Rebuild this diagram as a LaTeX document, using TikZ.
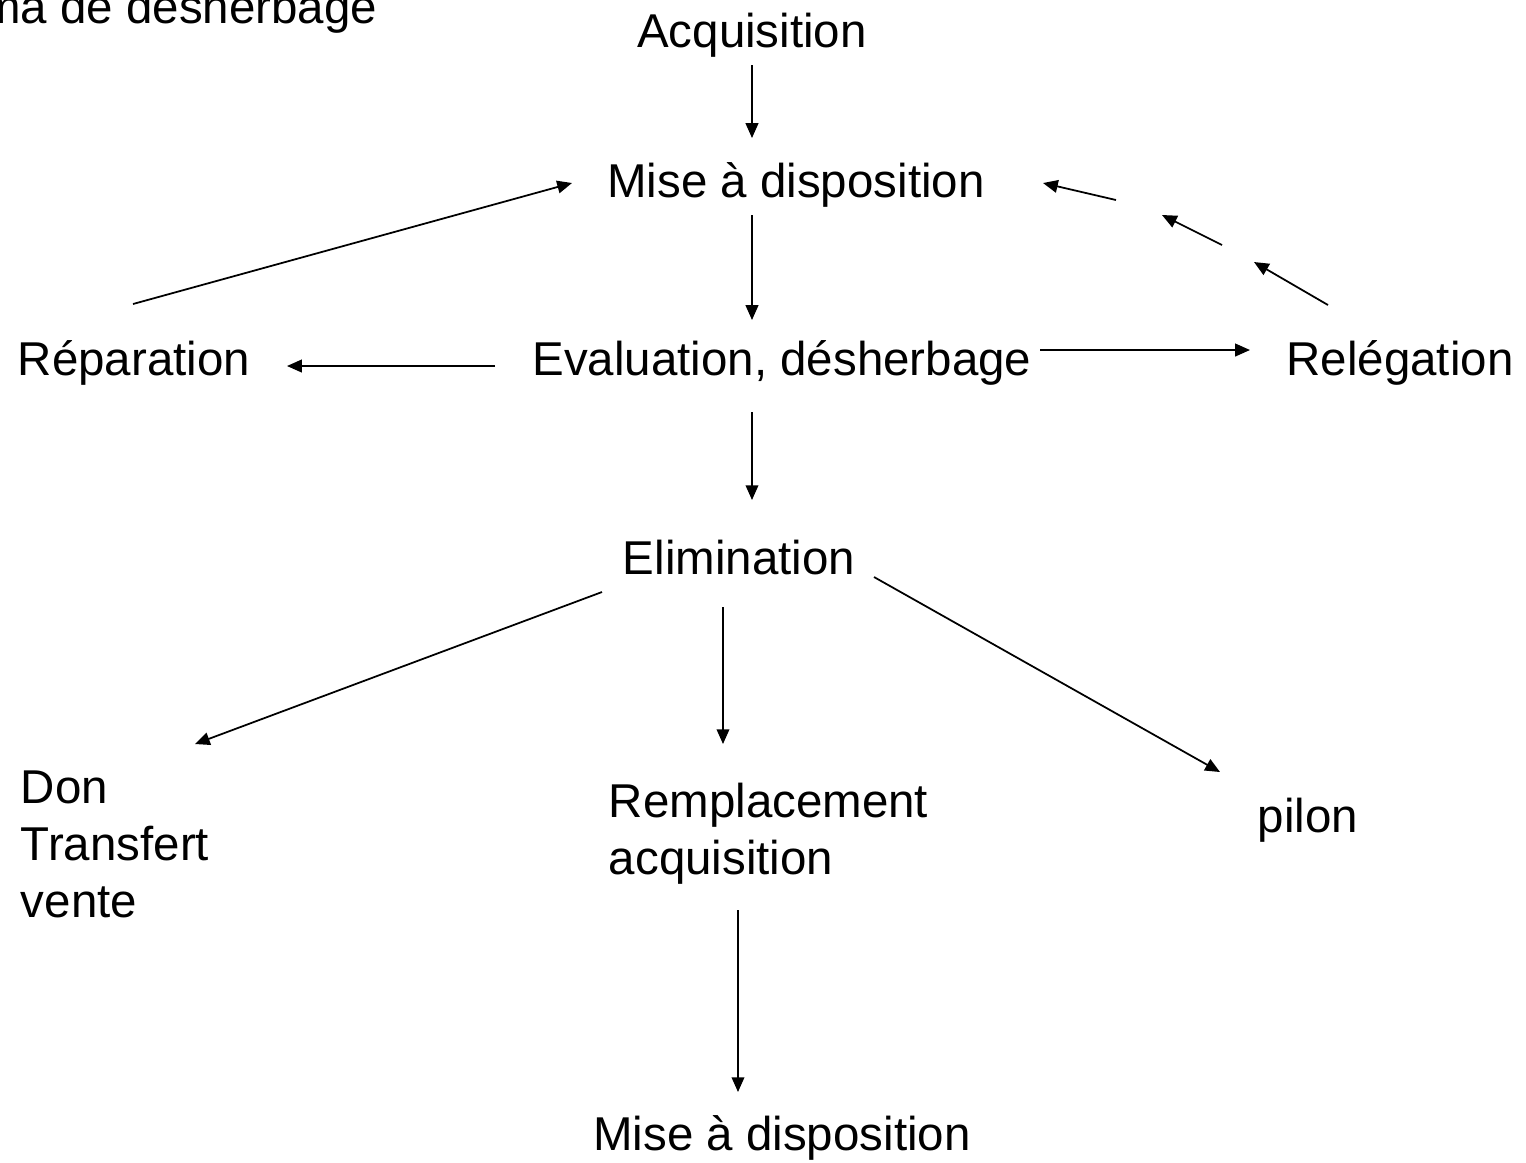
\documentclass[tikz,border=0pt]{standalone}
\usepackage{fontspec}
\setmainfont{Liberation Sans}
\usetikzlibrary{arrows.meta, calc}

\begin{document}
\begin{tikzpicture}[
        x=0.01cm, y=-0.01cm,
        >={Triangle[length=4.2pt,width=3.6pt]},
        line width=0.5pt,
        lbl/.style={inner sep=0pt, font=\fontsize{13.5}{16.2}\selectfont},
        multi/.style={lbl, align=left},
    ]
    \useasboundingbox (0,0) rectangle (1526,1162);
    \clip (0,0) rectangle (1526,1162);

    %============================================================
    % Title (cut at the left border)
    %============================================================
    \node[lbl, anchor=base east] (title) at (378,23) {Schéma de désherbage};

    %============================================================
    % Main chain
    %============================================================
    \node[lbl, anchor=base] (acq)  at (752,47)  {Acquisition};
    \node[lbl, anchor=base] (mise) at (796,197) {Mise à disposition};
    \node[lbl, anchor=base] (eval) at (782,375) {Evaluation, désherbage};
    \node[lbl, anchor=base] (elim) at (739,574) {Elimination};

    \coordinate (acq-out)  at (752,65);
    \coordinate (mise-in)  at (752,138);
    \coordinate (mise-out) at (752,215);
    \coordinate (eval-in)  at (752,320);
    \coordinate (eval-out) at (752,412);
    \coordinate (elim-in)  at (752,500);

    \draw[->] (acq-out) -- (mise-in);
    \draw[->] (mise-out) -- (eval-in);
    \draw[->] (eval-out) -- (elim-in);

    %============================================================
    % Side branches: Réparation / Relégation
    %============================================================
    \node[lbl, anchor=base] (rep) at (134,375)  {Réparation};
    \node[lbl, anchor=base] (rel) at (1400,375) {Relégation};

    \draw[->] (495,366) coordinate (eval-w) -- (287,366) coordinate (rep-e);
    \draw[->] (1040,350) coordinate (eval-e) -- (1250,350) coordinate (rel-w);

    % back to Mise à disposition
    \coordinate (rep-n)  at (133,304);
    \coordinate (mise-w) at (572,183);
    \draw[->] (rep-n) -- (mise-w);

    % Relégation -> Mise à disposition, in three pieces
    \draw[->] (1328,305) coordinate (rel-n) -- (1254,262);
    \draw[->] (1222,245) -- (1162,215);
    \draw[->] (1116,200) -- (1043,183) coordinate (mise-e);

    %============================================================
    % Elimination outcomes
    %============================================================
    \node[multi, anchor=base west] (don)   at (20,917)  {Don\\Transfert\\vente};
    \node[multi, anchor=base west] (rempl) at (608,874) {Remplacement\\acquisition};
    \node[lbl, anchor=base west]   (pilon) at (1257,832) {pilon};
    \node[lbl, anchor=base]        (mise2) at (782,1150) {Mise à disposition};

    \coordinate (elim-sw) at (602,592);
    \coordinate (elim-s)  at (723,607);
    \coordinate (elim-se) at (874,577);
    \draw[->] (elim-sw) -- (195,744) coordinate (don-ne);
    \draw[->] (elim-s) -- (723,744) coordinate (rempl-n);
    \draw[->] (elim-se) -- (1220,772) coordinate (pilon-nw);

    \draw[->] (738,910) coordinate (rempl-s) -- (738,1092) coordinate (mise2-n);

\end{tikzpicture}
\end{document}
